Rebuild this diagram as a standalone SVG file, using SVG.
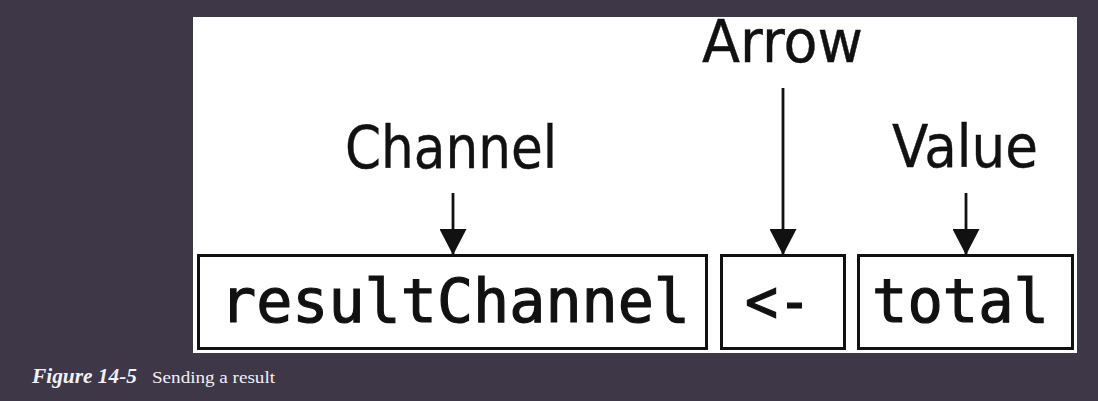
<svg xmlns="http://www.w3.org/2000/svg" width="1098" height="401" viewBox="0 0 1098 401">
<style>
.box{fill:#fff;stroke:#111;stroke-width:3}
.lbl{font-family:"DejaVu Sans","Noto Sans",sans-serif;font-size:58px;fill:#111;stroke:#111;stroke-width:0.4}
.code{font-family:"DejaVu Sans Mono","Liberation Mono",monospace;font-size:60px;fill:#111;stroke:#111;stroke-width:1.2}
.conn{stroke:#111;stroke-width:2.8;fill:none}
.cap{font-family:"Liberation Serif","DejaVu Serif",serif;fill:#f2f0f6}
</style>
<defs>
<marker id="ah" viewBox="0 0 10 10" refX="10" refY="5" markerWidth="26" markerHeight="27" markerUnits="userSpaceOnUse" orient="auto" preserveAspectRatio="none">
<path d="M0,0 L10,5 L0,10 Z" fill="#111"/>
</marker>
</defs>
<rect x="0" y="0" width="1098" height="401" fill="#3e3748"/>
<rect x="193" y="17" width="884" height="336" fill="#fff"/>
<g id="node-resultChannel">
<rect class="box" x="198.5" y="255.5" width="508" height="93"/>
<text class="code" x="220" y="322" textLength="470" lengthAdjust="spacingAndGlyphs">resultChannel</text>
</g>
<g id="node-arrow-op">
<rect class="box" x="721.5" y="255.5" width="123" height="93"/>
<text class="code" x="745" y="322" textLength="66" lengthAdjust="spacingAndGlyphs">&lt;-</text>
</g>
<g id="node-total">
<rect class="box" x="858.5" y="255.5" width="214" height="93"/>
<text class="code" x="872" y="322" textLength="177" lengthAdjust="spacingAndGlyphs">total</text>
</g>
<g id="label-channel">
<text class="lbl" x="345" y="168" textLength="212" lengthAdjust="spacingAndGlyphs">Channel</text>
</g>
<g id="label-arrow">
<text class="lbl" x="702" y="62" textLength="161" lengthAdjust="spacingAndGlyphs">Arrow</text>
</g>
<g id="label-value">
<text class="lbl" x="892" y="167" textLength="146" lengthAdjust="spacingAndGlyphs">Value</text>
</g>
<g id="connectors">
<line class="conn" x1="453" y1="193" x2="453" y2="255" marker-end="url(#ah)"/>
<line class="conn" x1="783" y1="88" x2="783" y2="255" marker-end="url(#ah)"/>
<line class="conn" x1="966" y1="193" x2="966" y2="255" marker-end="url(#ah)"/>
</g>
<g id="caption">
<text class="cap" x="32" y="383" font-size="20" font-weight="bold" font-style="italic" textLength="105" lengthAdjust="spacingAndGlyphs">Figure 14-5</text>
<text class="cap" x="152" y="383" font-size="16" textLength="123" lengthAdjust="spacingAndGlyphs">Sending a result</text>
</g>
</svg>
